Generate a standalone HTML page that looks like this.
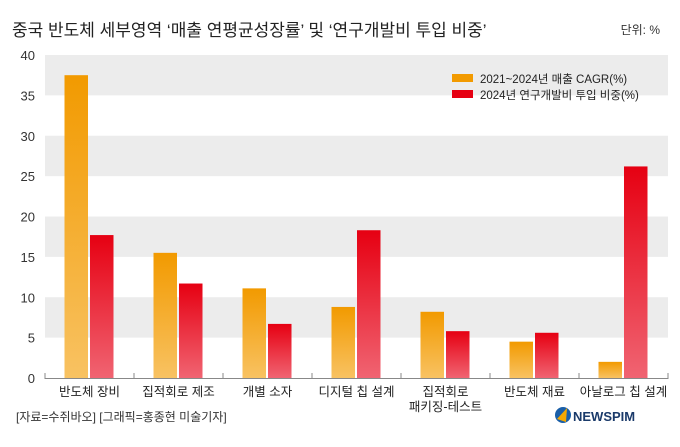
<!DOCTYPE html>
<html><head><meta charset="utf-8">
<style>
body{margin:0;background:#fff;}
svg text{font-family:"Liberation Sans","Noto Sans CJK KR",sans-serif;}
</style></head>
<body>
<svg id="chart" width="680" height="442" xmlns="http://www.w3.org/2000/svg">
<defs>
<linearGradient id="gO" x1="0" y1="0" x2="0" y2="1"><stop offset="0" stop-color="#f29a00"/><stop offset="1" stop-color="#f8c262"/></linearGradient>
<linearGradient id="gR" x1="0" y1="0" x2="0" y2="1"><stop offset="0" stop-color="#e60012"/><stop offset="1" stop-color="#f06472"/></linearGradient>
</defs>
<text x="12" y="36" font-size="17" fill="#222">중국 반도체 세부영역 ‘매출 연평균성장률’ 및 ‘연구개발비 투입 비중’</text>
<text x="660" y="34" font-size="12" fill="#333" text-anchor="end">단위: %</text>
<g id="bands"></g>
<g id="yticks"></g>
<g id="bars"></g>
<g id="xaxis"></g>
<g>
<rect x="452" y="74" width="21" height="8" fill="#f29a00"/>
<text x="480" y="83" font-size="11.5" fill="#222">2021~2024년 매출 CAGR(%)</text>
<rect x="452" y="90" width="21" height="8" fill="#e60012"/>
<text x="480" y="99" font-size="11.5" fill="#222">2024년 연구개발비 투입 비중(%)</text>
</g>
<text x="16" y="421" font-size="12" fill="#333">[자료=수쥐바오] [그래픽=홍종현 미술기자]</text>
<g>
<circle cx="563" cy="415" r="8" fill="#1a5fa8"/>
<path d="M557 419 L567 408 L566 422 Z" fill="#f5a800"/>
<text x="573" y="421" font-size="13" font-weight="bold" fill="#1a3a6a">NEWSPIM</text>
</g>
</svg>
<script>
const categories=[["반도체 장비"],["집적회로 제조"],["개별 소자"],["디지털 칩 설계"],["집적회로","패키징-테스트"],["반도체 재료"],["아날로그 칩 설계"]];
const cagr=[37.5,15.5,11.1,8.8,8.2,4.5,2.0];
const rnd=[17.7,11.7,6.7,18.3,5.8,5.6,26.2];
const yTicks=[0,5,10,15,20,25,30,35,40];
const NS="http://www.w3.org/2000/svg";
const x0=45,x1=668,y0=378,yTop=55;
const y=v=>y0-(v/40)*(y0-yTop);
const gw=(x1-x0)/categories.length;
const cx=i=>x0+gw*(i+0.5);
function mk(t,a,p){const e=document.createElementNS(NS,t);for(const k in a)e.setAttribute(k,a[k]);p.appendChild(e);return e;}
const bands=document.getElementById('bands');
for(let k=0;k<4;k++){const b=mk('rect',{x:x0,y:y(40-10*k),width:x1-x0,height:y(35-10*k)-y(40-10*k),fill:'#ececec'},bands);

}
const yt=document.getElementById('yticks');
yTicks.forEach(v=>{const t=mk('text',{x:35,y:y(v)+5,'font-size':13,fill:'#333','text-anchor':'end'},yt);t.textContent=v;

});
const bars=document.getElementById('bars');
categories.forEach((c,i)=>{
 const o=mk('rect',{x:cx(i)-25,y:y(cagr[i]),width:23.5,height:y0-y(cagr[i]),fill:'url(#gO)'},bars);
 
 
 const r=mk('rect',{x:cx(i)+0.5,y:y(rnd[i]),width:23.5,height:y0-y(rnd[i]),fill:'url(#gR)'},bars);
 
 
});
const xa=document.getElementById('xaxis');
const ax=mk('line',{x1:x0,y1:y0+0.5,x2:x1,y2:y0+0.5,stroke:'#888','stroke-width':1},xa);


for(let i=0;i<=categories.length;i++){const l=mk('line',{x1:x0+gw*i,y1:y0-5,x2:x0+gw*i,y2:y0+1,stroke:'#888'},xa);

}
categories.forEach((c,i)=>{c.forEach((s,j)=>{const t=mk('text',{x:cx(i),y:396+j*15,'font-size':12.5,fill:'#222','text-anchor':'middle'},xa);t.textContent=s;

});});
</script>
</body></html>
